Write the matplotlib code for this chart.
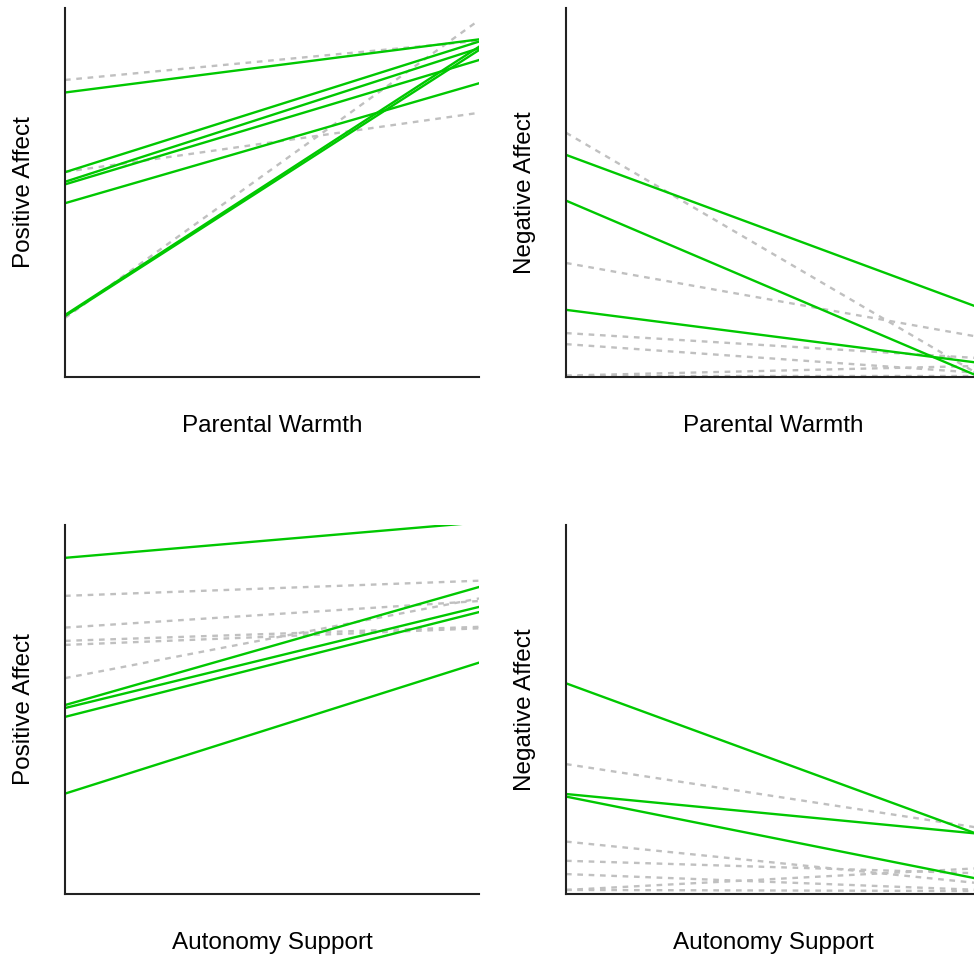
import matplotlib
matplotlib.use("Agg")
from matplotlib import pyplot as plt

plt.rcParams['font.family'] = ['Liberation Sans', 'DejaVu Sans']

# x positions: low / high level of the predictor
x = [0, 1]

# Parental Warmth -> Positive Affect (start, end)
pw_pos_green = [[0.771, 0.915], [0.555, 0.909], [0.529, 0.891], [0.522, 0.859],
                [0.471, 0.796], [0.168, 0.895], [0.165, 0.886]]
pw_pos_gray = [[0.805, 0.911], [0.556, 0.716], [0.160, 0.967]]

# Parental Warmth -> Negative Affect
pw_neg_green = [[0.602, 0.187], [0.478, 0.0], [0.182, 0.038]]
pw_neg_gray = [[0.662, 0.005], [0.309, 0.108], [0.119, 0.051], [0.089, 0.011],
               [0.004, 0.030], [0.004, 0.004]]

# Autonomy Support -> Positive Affect
as_pos_green = [[0.911, 1.007], [0.512, 0.832], [0.504, 0.778], [0.480, 0.764],
                [0.272, 0.627]]
as_pos_gray = [[0.808, 0.849], [0.722, 0.794], [0.686, 0.724], [0.675, 0.720],
               [0.585, 0.801]]

# Autonomy Support -> Negative Affect
as_neg_green = [[0.571, 0.160], [0.271, 0.163], [0.264, 0.040]]
as_neg_gray = [[0.352, 0.179], [0.142, 0.029], [0.090, 0.056], [0.054, 0.011],
               [0.011, 0.070], [0.011, 0.008]]

panels = [
    (pw_pos_green, pw_pos_gray, "Parental Warmth", "Positive Affect"),
    (pw_neg_green, pw_neg_gray, "Parental Warmth", "Negative Affect"),
    (as_pos_green, as_pos_gray, "Autonomy Support", "Positive Affect"),
    (as_neg_green, as_neg_gray, "Autonomy Support", "Negative Affect"),
]

W, H = 974, 956
fig = plt.figure(figsize=(W / 100, H / 100), dpi=100)

# axes boxes in pixels: left, top, width, height
boxes = [(65, 8, 414, 369), (566, 8, 414, 369),
         (65, 525, 414, 369), (566, 525, 414, 369)]

for (green, gray, xlab, ylab), (l, t, w, h) in zip(panels, boxes):
    ax = fig.add_axes([l / W, (H - t - h) / H, w / W, h / H])
    for s in gray:
        ax.plot(x, s, color="#c0c0c0", lw=1.7, ls=(0, (2.4, 2.4)))
    for s in green:
        ax.plot(x, s, color="#00c800", lw=1.7)
    ax.set_xlim(0, 1)
    ax.set_ylim(0, 1)
    ax.set_xticks([])
    ax.set_yticks([])
    for side in ["top", "right"]:
        ax.spines[side].set_visible(False)
    for side in ["left", "bottom"]:
        ax.spines[side].set_color("#222222")
        ax.spines[side].set_linewidth(1.5)
    ax.set_xlabel(xlab, fontsize=17.5, va="top")
    ax.xaxis.set_label_coords(0.5, -38 / h)
    ax.set_ylabel(ylab, fontsize=17.5, va="center")
    ax.yaxis.set_label_coords(-41 / w, 0.5)

fig.savefig("out.png", dpi=100)
